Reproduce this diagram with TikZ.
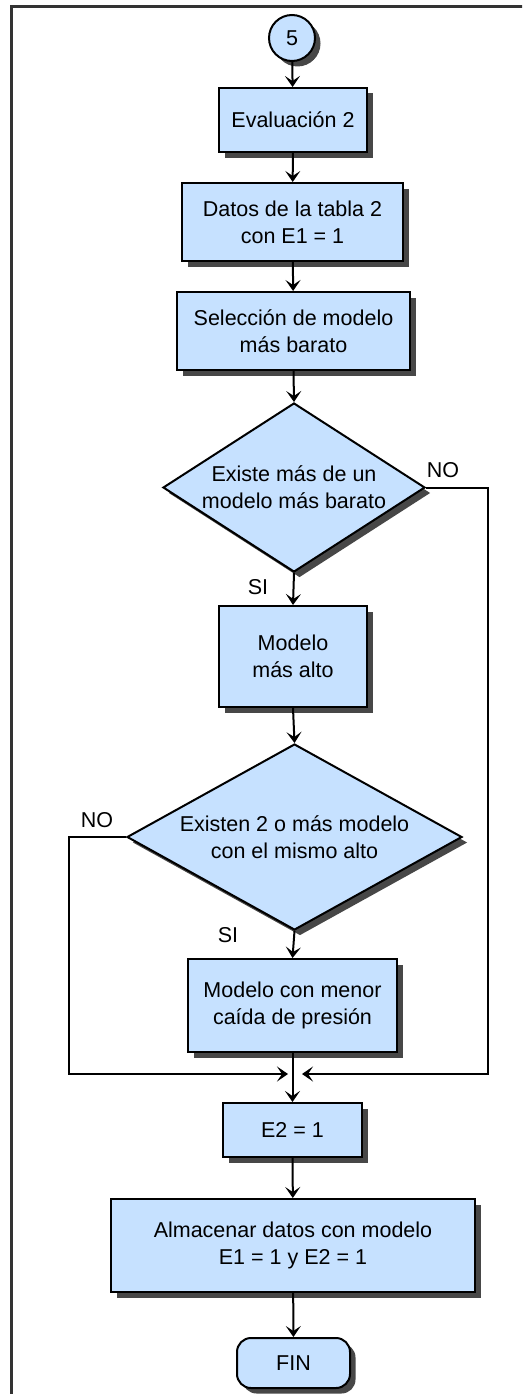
\documentclass[tikz,border=0pt]{standalone}
\usepackage{fontspec}
\setmainfont{Liberation Sans}
\usetikzlibrary{shapes.geometric,shadows,arrows.meta}
\definecolor{boxblue}{RGB}{198,225,255}
\tikzset{
  shadowed/.style={drop shadow={shadow xshift=5.5pt,shadow yshift=-5.5pt,fill=black!72,opacity=1}},
  procbox/.style={rectangle,draw=black,line width=2pt,fill=boxblue,shadowed,align=center,inner sep=0pt,font=\fontsize{21.5}{27}\selectfont},
  decbox/.style={diamond,draw=black,line width=2pt,fill=boxblue,shadowed,inner sep=0pt},
  dtext/.style={align=center,inner sep=0pt,font=\fontsize{21.5}{27}\selectfont},
  lbl/.style={inner sep=0pt,font=\fontsize{21.5}{26}\selectfont},
  conn/.style={draw=black,line width=2pt},
  arr/.style={conn,-{Stealth[length=11pt,width=15pt,inset=5pt]}},
}
\begin{document}
\begin{tikzpicture}[x=1pt,y=-1pt]
\useasboundingbox (0,0) rectangle (522,1394);
\begin{scope}
\clip (0,0) rectangle (522,1394);
\draw[line width=3pt,black!80] (11,1420) -- (11,7) -- (540,7);
\end{scope}

\node[circle,draw=black,line width=2pt,fill=boxblue,shadowed,minimum size=46pt,inner sep=0pt,font=\fontsize{21.5}{26}\selectfont] (c5) at (292,38) {5};
\node[procbox,minimum width=148pt,minimum height=64pt] (eval) at (293,120) {Evaluación 2};
\node[procbox,minimum width=221pt,minimum height=78pt] (datos) at (292.5,222) {Datos de la tabla 2\\con E1 = 1};
\node[procbox,minimum width=233pt,minimum height=78pt] (sel) at (293.5,331) {Selección de modelo\\más barato};
\node[decbox,minimum width=262pt,minimum height=169pt] (d1) at (294,487.5) {};
\node[dtext] (d1t) at (294,487.5) {Existe más de un\\modelo más barato};
\node[procbox,minimum width=148pt,minimum height=101pt] (m1) at (293,656.5) {Modelo\\más alto};
\node[decbox,minimum width=335pt,minimum height=186pt] (d2) at (294.5,837) {};
\node[dtext] (d2t) at (294.5,837) {Existen 2 o más modelo\\con el mismo alto};
\node[procbox,minimum width=209pt,minimum height=93pt] (m2) at (292.5,1005.5) {Modelo con menor\\caída de presión};
\node[procbox,minimum width=139pt,minimum height=54pt] (e2) at (292.5,1130) {E2 = 1};
\node[procbox,minimum width=364pt,minimum height=93pt] (alm) at (293,1245.5) {Almacenar datos con modelo\\E1 = 1 y E2 = 1};
\node[procbox,rounded corners=14pt,minimum width=113pt,minimum height=50pt] (fin) at (293.5,1363) {FIN};

\node[lbl] (no1) at (443,470) {NO};
\node[lbl] (si1) at (258,587) {SI};
\node[lbl] (no2) at (97,820) {NO};
\node[lbl] (si2) at (228,935) {SI};

\coordinate (rtop) at (487.5,487.5);
\coordinate (rbot) at (487.5,1074);
\coordinate (ltop) at (69,837);
\coordinate (lbot) at (69,1074);
\coordinate (jr) at (302,1074);
\coordinate (jl) at (288,1074);

\draw[arr] (c5) -- (eval);
\draw[arr] (eval) -- (datos);
\draw[arr] (datos) -- (sel);
\draw[arr] (sel.south) -- (d1.north);
\draw[arr] (d1.south) -- (m1.north);
\draw[arr] (m1.south) -- (d2.north);
\draw[arr] (d2.south) -- (m2.north);
\draw[arr] (m2.south) -- (e2.north);
\draw[arr] (d1.east) -- (rtop) -- (rbot) -- (jr);
\draw[arr] (d2.west) -- (ltop) -- (lbot) -- (jl);
\draw[arr] (e2) -- (alm);
\draw[arr] (alm) -- (fin);
\end{tikzpicture}
\end{document}
